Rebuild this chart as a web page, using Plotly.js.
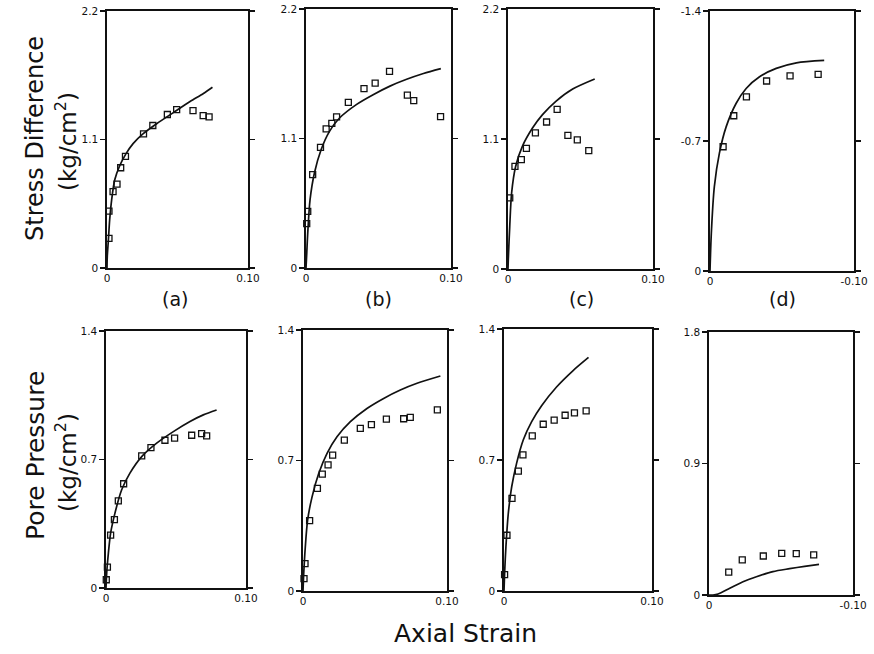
<!DOCTYPE html>
<html>
<head>
<meta charset="utf-8">
<script src="https://cdn.plot.ly/plotly-3.0.1.min.js"></script>
<style>html,body{margin:0;padding:0;background:#fff;}#chart{width:874px;height:654px;}</style>
</head>
<body>
<div id="chart"></div>
<script>
// ---- Data ----
// (a) stress difference
const aCurveX = [0,0.0002,0.001,0.0019,0.0033,0.0055,0.009,0.0133,0.0185,0.0257,0.0352,0.047,0.0589,0.0684,0.0748];
const aCurveY = [0,0.10,0.242,0.413,0.584,0.755,0.875,0.975,1.065,1.15,1.235,1.33,1.425,1.494,1.547];
const aPtsX = [0.0014,0.0014,0.0043,0.0071,0.0097,0.0131,0.0259,0.0325,0.0428,0.0494,0.0610,0.0682,0.0724];
const aPtsY = [0.254,0.487,0.653,0.718,0.858,0.955,1.148,1.220,1.314,1.356,1.348,1.305,1.294];
// (b) stress difference
const bCurveX = [0,0.0005,0.0012,0.0028,0.0058,0.0104,0.0162,0.0231,0.0347,0.0463,0.0579,0.0694,0.081,0.093];
const bCurveY = [0,0.12,0.297,0.58,0.807,1.005,1.161,1.274,1.388,1.472,1.545,1.603,1.652,1.693];
const bPtsX = [0.0005,0.0012,0.0046,0.010,0.0139,0.0178,0.0211,0.0292,0.040,0.0477,0.0576,0.0699,0.0743,0.0928];
const bPtsY = [0.377,0.481,0.793,1.025,1.181,1.229,1.283,1.407,1.523,1.571,1.671,1.469,1.421,1.285];
// (c) stress difference
const cCurveX = [0,0.0002,0.0012,0.0025,0.0053,0.0099,0.0169,0.0238,0.033,0.0446,0.0598];
const cCurveY = [0,0.079,0.361,0.643,0.869,1.038,1.193,1.306,1.419,1.523,1.608];
const cPtsX = [0.0012,0.0048,0.0092,0.0127,0.0189,0.0266,0.0339,0.0413,0.0478,0.0557];
const cPtsY = [0.601,0.869,0.925,1.021,1.151,1.244,1.351,1.131,1.092,1.001];
// (d) stress difference (negative)
const dCurveX = [0,-0.0009,-0.003,-0.0065,-0.0112,-0.0181,-0.0251,-0.0344,-0.046,-0.06,-0.0793];
const dCurveY = [0,-0.201,-0.453,-0.633,-0.776,-0.902,-0.983,-1.046,-1.091,-1.121,-1.134];
const dPtsX = [-0.0091,-0.0165,-0.0253,-0.0393,-0.0556,-0.0751];
const dPtsY = [-0.669,-0.836,-0.938,-1.023,-1.051,-1.059];
// (a) pore pressure
const eCurveX = [0,0.0005,0.0017,0.0033,0.0064,0.0112,0.0171,0.0255,0.0362,0.0481,0.06,0.0695,0.079];
const eCurveY = [0,0.082,0.19,0.299,0.408,0.535,0.626,0.716,0.789,0.852,0.907,0.943,0.970];
const ePtsX = [0.0002,0.001,0.0033,0.006,0.0088,0.0126,0.0255,0.0321,0.0421,0.049,0.0612,0.0683,0.0719];
const ePtsY = [0.045,0.114,0.288,0.372,0.475,0.568,0.720,0.765,0.805,0.816,0.832,0.841,0.829];
// (b) pore pressure
const fCurveX = [0,0.0005,0.0016,0.0032,0.0063,0.0109,0.0167,0.0236,0.0329,0.0444,0.056,0.0676,0.0792,0.0954];
const fCurveY = [0,0.093,0.236,0.38,0.505,0.63,0.738,0.827,0.908,0.979,1.033,1.078,1.114,1.153];
const fPtsX = [0.0007,0.0014,0.0046,0.010,0.0134,0.0174,0.0206,0.0287,0.0398,0.0475,0.0579,0.0699,0.0745,0.0933];
const fPtsY = [0.066,0.147,0.378,0.551,0.627,0.677,0.729,0.809,0.872,0.892,0.922,0.924,0.931,0.972];
// (c) pore pressure
const gCurveX = [0,0.0004,0.0013,0.0029,0.0052,0.0085,0.013,0.0187,0.0254,0.0355,0.0467,0.0571];
const gCurveY = [0,0.093,0.236,0.414,0.557,0.682,0.807,0.905,0.99,1.09,1.178,1.248];
const gPtsX = [0.0004,0.002,0.0054,0.0097,0.0128,0.0191,0.0265,0.0339,0.0413,0.0476,0.0555];
const gPtsY = [0.0875,0.298,0.495,0.641,0.727,0.829,0.891,0.913,0.939,0.952,0.963];
// (d) pore pressure
const hCurveX = [0,-0.0028,-0.0063,-0.0144,-0.0236,-0.0329,-0.0444,-0.056,-0.0664,-0.0764];
const hCurveY = [0,0,0.007,0.046,0.091,0.125,0.16,0.18,0.196,0.21];
const hPtsX = [-0.0137,-0.0231,-0.0377,-0.0505,-0.0606,-0.0727];
const hPtsY = [0.157,0.240,0.267,0.285,0.283,0.274];

// Axis ticks
const xTicksPos = [0, 0.10];   const xTextPos = ["0", "0.10"];
const xTicksNeg = [0, -0.10];  const xTextNeg = ["0", "-0.10"];
const yTicksA = [0, 1.1, 2.2];   const yTextA = ["0", "1.1", "2.2"];
const yTicksD = [0, -0.7, -1.4]; const yTextD = ["0", "-0.7", "-1.4"];
const yTicksE = [0, 0.7, 1.4];   const yTextE = ["0", "0.7", "1.4"];
const yTicksH = [0, 0.9, 1.8];   const yTextH = ["0", "0.9", "1.8"];

const panelLabels = ["(a)", "(b)", "(c)", "(d)"];

// ---- Layout geometry (pixels) ----
const W = 874, H = 654;
const panels = [
  {cx:aCurveX, cy:aCurveY, px:aPtsX, py:aPtsY, x:[107,248], y:[11,268], xr:[0,0.10], yr:[0,2.2], xt:xTicksPos, xtt:xTextPos, yt:yTicksA, ytt:yTextA},
  {cx:bCurveX, cy:bCurveY, px:bPtsX, py:bPtsY, x:[306,451], y:[9,268], xr:[0,0.10], yr:[0,2.2], xt:xTicksPos, xtt:xTextPos, yt:yTicksA, ytt:yTextA},
  {cx:cCurveX, cy:cCurveY, px:cPtsX, py:cPtsY, x:[508,653], y:[9,269], xr:[0,0.10], yr:[0,2.2], xt:xTicksPos, xtt:xTextPos, yt:yTicksA, ytt:yTextA},
  {cx:dCurveX, cy:dCurveY, px:dPtsX, py:dPtsY, x:[710,854], y:[11,271], xr:[0,-0.10], yr:[0,-1.4], xt:xTicksNeg, xtt:xTextNeg, yt:yTicksD, ytt:yTextD},
  {cx:eCurveX, cy:eCurveY, px:ePtsX, py:ePtsY, x:[106,246], y:[331,588], xr:[0,0.10], yr:[0,1.4], xt:xTicksPos, xtt:xTextPos, yt:yTicksE, ytt:yTextE},
  {cx:fCurveX, cy:fCurveY, px:fPtsX, py:fPtsY, x:[303,447], y:[330,591], xr:[0,0.10], yr:[0,1.4], xt:xTicksPos, xtt:xTextPos, yt:yTicksE, ytt:yTextE},
  {cx:gCurveX, cy:gCurveY, px:gPtsX, py:gPtsY, x:[504,652], y:[329,591], xr:[0,0.10], yr:[0,1.4], xt:xTicksPos, xtt:xTextPos, yt:yTicksE, ytt:yTextE},
  {cx:hCurveX, cy:hCurveY, px:hPtsX, py:hPtsY, x:[709,853], y:[332,595], xr:[0,-0.10], yr:[0,1.8], xt:xTicksNeg, xtt:xTextNeg, yt:yTicksH, ytt:yTextH}
];

const FONT = "DejaVu Sans, sans-serif";
const traces = [];
const layout = {
  width: W, height: H,
  margin: {l:0, r:0, t:0, b:0},
  paper_bgcolor: "#ffffff", plot_bgcolor: "#ffffff",
  showlegend: false,
  font: {family: FONT, color: "#111", size: 10},
  annotations: []
};

panels.forEach((p, i) => {
  const n = i + 1;
  const xa = n === 1 ? "x" : "x" + n;
  const ya = n === 1 ? "y" : "y" + n;
  traces.push({x: p.cx, y: p.cy, xaxis: xa, yaxis: ya, mode: "lines", type: "scatter",
    line: {color: "#111", width: 1.7, shape: "spline", smoothing: 0.8}, hoverinfo: "skip"});
  traces.push({x: p.px, y: p.py, xaxis: xa, yaxis: ya, mode: "markers", type: "scatter",
    marker: {symbol: "square-open", size: 6, color: "#111", line: {width: 1.3, color: "#111"}}, cliponaxis: false});
  layout[n === 1 ? "xaxis" : "xaxis" + n] = {
    domain: [p.x[0] / W, p.x[1] / W], range: p.xr, anchor: ya,
    tickmode: "array", tickvals: p.xt, ticktext: p.xtt, ticks: "", ticklen: 0,
    showline: true, mirror: true, linecolor: "#111", linewidth: 1.6,
    showgrid: false, zeroline: false, fixedrange: true,
    tickfont: {size: 10.5, family: FONT, color: "#111"}
  };
  layout[n === 1 ? "yaxis" : "yaxis" + n] = {
    domain: [1 - p.y[1] / H, 1 - p.y[0] / H], range: p.yr, anchor: xa,
    tickmode: "array", tickvals: p.yt, ticktext: p.ytt, ticks: "outside", ticklen: 5, tickwidth: 1.2,
    tickcolor: "#111",
    showline: true, mirror: "ticks", linecolor: "#111", linewidth: 1.6,
    showgrid: false, zeroline: false, fixedrange: true,
    tickfont: {size: 10.5, family: FONT, color: "#111"}
  };
});

// panel letters
const labelX = [175, 378, 581, 782];
panelLabels.forEach((t, i) => {
  layout.annotations.push({text: t, x: labelX[i] / W, y: 1 - 299 / H, xref: "paper", yref: "paper",
    showarrow: false, xanchor: "center", yanchor: "middle", font: {size: 19, family: FONT, color: "#111"}});
});

// axis titles
layout.annotations.push(
  {text: "Stress Difference", x: 35 / W, y: 1 - 139 / H, xref: "paper", yref: "paper", textangle: -90,
   showarrow: false, xanchor: "center", yanchor: "middle", font: {size: 24, family: FONT, color: "#111"}},
  {text: "(kg/cm<sup>2</sup>)", x: 66 / W, y: 1 - 142 / H, xref: "paper", yref: "paper", textangle: -90,
   showarrow: false, xanchor: "center", yanchor: "middle", font: {size: 23, family: FONT, color: "#111"}},
  {text: "Pore Pressure", x: 35 / W, y: 1 - 456 / H, xref: "paper", yref: "paper", textangle: -90,
   showarrow: false, xanchor: "center", yanchor: "middle", font: {size: 25, family: FONT, color: "#111"}},
  {text: "(kg/cm<sup>2</sup>)", x: 66 / W, y: 1 - 463 / H, xref: "paper", yref: "paper", textangle: -90,
   showarrow: false, xanchor: "center", yanchor: "middle", font: {size: 23, family: FONT, color: "#111"}},
  {text: "Axial Strain", x: 466 / W, y: 1 - 633 / H, xref: "paper", yref: "paper",
   showarrow: false, xanchor: "center", yanchor: "middle", font: {size: 25, family: FONT, color: "#111"}}
);

Plotly.newPlot("chart", traces, layout, {staticPlot: true, displayModeBar: false});
</script>
</body>
</html>
